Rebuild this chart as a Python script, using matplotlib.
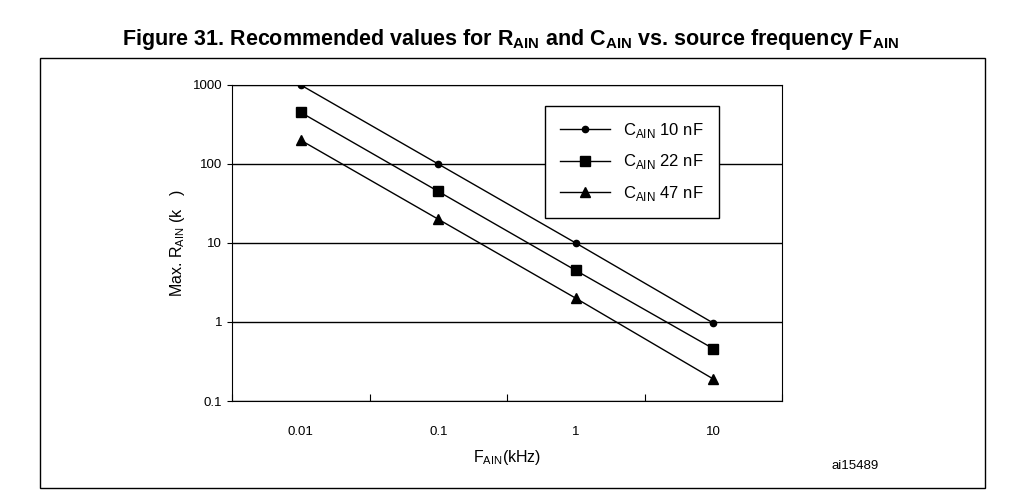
import numpy as np
import matplotlib.pyplot as plt
from matplotlib.patches import Rectangle

plt.rcParams['font.family'] = ['Liberation Sans', 'DejaVu Sans']
plt.rcParams['mathtext.fontset'] = 'custom'
plt.rcParams['mathtext.rm'] = 'Liberation Sans'
plt.rcParams['mathtext.bf'] = 'Liberation Sans:bold'

freqs = ['0.01', '0.1', '1', '10']
r_10nf = [1000, 100, 10, 0.97]
r_22nf = [450, 45, 4.5, 0.46]
r_47nf = [200, 20, 2, 0.19]

fig = plt.figure(figsize=(10.22, 5.03), dpi=100)
fig.patches.append(Rectangle((40/1022, 1-488/503), 945/1022, 430/503,
                             transform=fig.transFigure, fill=False, lw=1, ec='k'))
fig.text(0.5, 1-40/503, r'Figure 31. Recommended values for R$_{\mathbf{AIN}}$ and C$_{\mathbf{AIN}}$ vs. source frequency F$_{\mathbf{AIN}}$',
         ha='center', va='center', fontsize=15.5, fontweight='bold')

ax = fig.add_axes([232/1022, 1-401/503, 550/1022, 316/503])
x = np.arange(len(freqs))
ax.plot(x, r_10nf, 'k-', marker='o', ms=4.5, lw=1, label=r'C$_{\rm AIN}$ 10 nF')
ax.plot(x, r_22nf, 'k-', marker='s', ms=6.5, lw=1, label=r'C$_{\rm AIN}$ 22 nF')
ax.plot(x, r_47nf, 'k-', marker='^', ms=7.5, lw=1, label=r'C$_{\rm AIN}$ 47 nF')
ax.set_yscale('log')
ax.set_ylim(0.1, 1000)
ax.set_xlim(-0.5, 3.5)
ax.set_yticks([0.1, 1, 10, 100, 1000])
ax.set_yticklabels(['0.1', '1', '10', '100', '1000'], fontsize=9.5)
ax.minorticks_off()
ax.set_xticks(np.arange(-0.5, 4, 1))
ax.set_xticklabels([])
ax.tick_params(axis='x', length=5, direction='in')
for xi, f in zip(x, freqs):
    ax.text(xi, -0.08, f, transform=ax.get_xaxis_transform(), ha='center', va='top', fontsize=9.5)
ax.grid(axis='y', color='k', lw=1)
ax.set_ylabel(r'Max. R$_{\rm AIN}$ (k   )', fontsize=11.5)
ax.set_xlabel(r'F$_{\rm AIN}$(kHz)', fontsize=11.5, labelpad=30)
leg = ax.legend(loc='upper right', bbox_to_anchor=(0.9, 0.96), fontsize=12, fancybox=False,
                framealpha=1, edgecolor='k', borderpad=0.9, labelspacing=0.75, handlelength=3)
fig.text(855/1022, 1-466/503, 'ai15489', ha='center', va='center', fontsize=9.5)
fig.savefig('out.png')
